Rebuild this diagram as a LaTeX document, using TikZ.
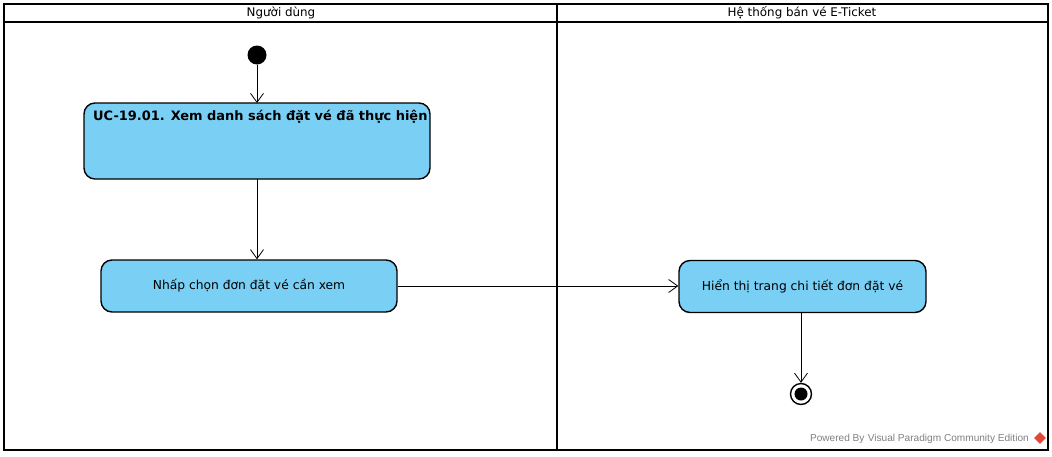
\documentclass[tikz,border=0pt]{standalone}
\usepackage{fontspec}
\setmainfont{DejaVu Sans}
\newfontfamily\wmfont{Liberation Sans}
\usetikzlibrary{arrows.meta,shapes.geometric}
\definecolor{actfill}{HTML}{7ACFF5}
\definecolor{wmgray}{HTML}{808080}
\definecolor{wmred}{HTML}{E0483A}
\tikzset{
  x=1pt,y=-1pt,
  act/.style={draw=black,line width=1.4pt,fill=actfill,rounded corners=11pt,inner sep=0pt},
  flow/.style={draw=black,line width=0.8pt,-{Straight Barb[length=9pt,width=13pt,line width=0.8pt]}},
  lane/.style={draw=black,line width=1.6pt},
  lanetext/.style={font=\fontsize{11.9}{14}\selectfont,inner sep=0pt},
  acttext/.style={font=\fontsize{12.3}{14}\selectfont,inner sep=0pt},
}
\begin{document}
\begin{tikzpicture}
\useasboundingbox (0,0) rectangle (1052,456);
\fill[white] (0,0) rectangle (1052,456);
% swimlanes
\draw[lane] (4,4) rectangle (1048,450);
\draw[lane] (4,22) -- (1048,22);
\draw[lane] (557,4) -- (557,450);
\node[lanetext] (lane1) at (281,13) {Người dùng};
\node[lanetext] (lane2) at (802,13) {Hệ thống bán vé E-Ticket};
% start
\node[circle,fill=black,minimum size=19pt,inner sep=0pt] (start) at (257,55) {};
% box1
\draw[act] (84,103) rectangle (430,179);
\coordinate (b1top) at (257,103);
\coordinate (b1bot) at (257,179);
\node[inner sep=0pt,font=\fontsize{12.95}{15}\selectfont\bfseries,anchor=west] (b1text) at (93,117) {UC-19.01. Xem danh sách đặt vé đã thực hiện};
% box2
\node[act,minimum width=296pt,minimum height=52pt,acttext] (b2) at (249,286) {Nhấp chọn đơn đặt vé cần xem};
% box3
\node[act,minimum width=247pt,minimum height=52pt,acttext] (b3) at (802.5,286.5) {Hiển thị trang chi tiết đơn đặt vé};
% end
\node[circle,draw=black,line width=1.4pt,fill=white,minimum size=21pt,inner sep=0pt] (end) at (801,394) {};
\node[circle,fill=black,minimum size=13pt,inner sep=0pt] (endin) at (801,394) {};
% flows
\draw[flow] (start) -- (b1top);
\draw[flow] (b1bot) -- (b2.north -| b1bot);
\draw[flow] (b2.east) -- (b3.west |- b2.east);
\draw[flow] (b3.south -| end) -- (end.north);
% watermark
\node[font=\wmfont\fontsize{10.1}{12}\selectfont,text=wmgray,anchor=east,inner sep=0pt] (wm) at (1029,439) {Powered By\,\,Visual Paradigm Community Edition};
\node[diamond,fill=wmred,minimum size=12pt,inner sep=0pt] (logo) at (1040,438) {};
\end{tikzpicture}
\end{document}
